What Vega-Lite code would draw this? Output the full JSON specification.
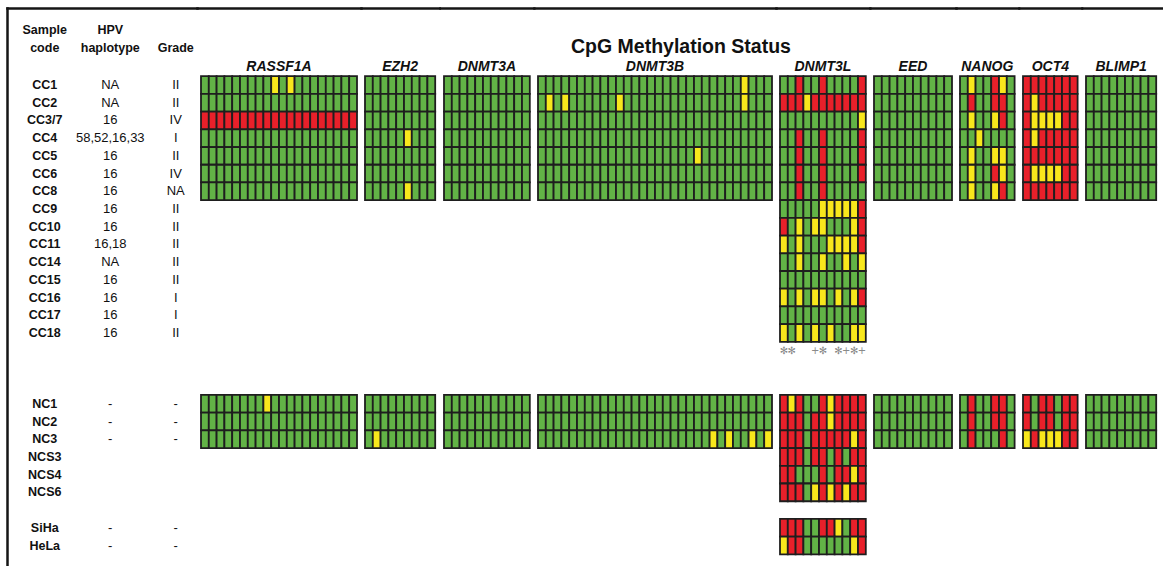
{
"$schema":"https://vega.github.io/schema/vega-lite/v6.json",
"padding":{"left":7,"top":8,"right":0,"bottom":0},
"autosize":{"type":"pad"},
"background":"white",
"spacing":0,
"bounds":"flush",
"resolve":{"scale":{"x":"independent","y":"independent"}},
"config":{"view":{"stroke":null},"axis":{"domainColor":"#151515","domainWidth":2.5,"domainCap":"square","labels":false,"ticks":false,"grid":false},"text":{"font":"Liberation Sans"}},
"datasets":{
"samples":[{"sample":"CC1","hpv":"NA","grade":"II"},{"sample":"CC2","hpv":"NA","grade":"II"},{"sample":"CC3/7","hpv":"16","grade":"IV"},{"sample":"CC4","hpv":"58,52,16,33","grade":"I"},{"sample":"CC5","hpv":"16","grade":"II"},{"sample":"CC6","hpv":"16","grade":"IV"},{"sample":"CC8","hpv":"16","grade":"NA"},{"sample":"CC9","hpv":"16","grade":"II"},{"sample":"CC10","hpv":"16","grade":"II"},{"sample":"CC11","hpv":"16,18","grade":"II"},{"sample":"CC14","hpv":"NA","grade":"II"},{"sample":"CC15","hpv":"16","grade":"II"},{"sample":"CC16","hpv":"16","grade":"I"},{"sample":"CC17","hpv":"16","grade":"I"},{"sample":"CC18","hpv":"16","grade":"II"},{"sample":"NC1","hpv":"-","grade":"-"},{"sample":"NC2","hpv":"-","grade":"-"},{"sample":"NC3","hpv":"-","grade":"-"},{"sample":"NCS3","hpv":"","grade":""},{"sample":"NCS4","hpv":"","grade":""},{"sample":"NCS6","hpv":"","grade":""},{"sample":"SiHa","hpv":"-","grade":"-"},{"sample":"HeLa","hpv":"-","grade":"-"}],
"headers":[{"col":"code","line":"H1","label":"Sample"},{"col":"code","line":"H2","label":"code"},{"col":"hpv","line":"H1","label":"HPV"},{"col":"hpv","line":"H2","label":"haplotype"},{"col":"grade","line":"H2","label":"Grade"}],
"RASSF1A":[
{"sample":"CC1","site":1,"status":"U"},{"sample":"CC1","site":2,"status":"U"},{"sample":"CC1","site":3,"status":"U"},{"sample":"CC1","site":4,"status":"U"},{"sample":"CC1","site":5,"status":"U"},{"sample":"CC1","site":6,"status":"U"},{"sample":"CC1","site":7,"status":"U"},{"sample":"CC1","site":8,"status":"U"},{"sample":"CC1","site":9,"status":"U"},{"sample":"CC1","site":10,"status":"P"},{"sample":"CC1","site":11,"status":"U"},{"sample":"CC1","site":12,"status":"P"},{"sample":"CC1","site":13,"status":"U"},{"sample":"CC1","site":14,"status":"U"},{"sample":"CC1","site":15,"status":"U"},{"sample":"CC1","site":16,"status":"U"},{"sample":"CC1","site":17,"status":"U"},{"sample":"CC1","site":18,"status":"U"},{"sample":"CC1","site":19,"status":"U"},{"sample":"CC1","site":20,"status":"U"},
{"sample":"CC2","site":1,"status":"U"},{"sample":"CC2","site":2,"status":"U"},{"sample":"CC2","site":3,"status":"U"},{"sample":"CC2","site":4,"status":"U"},{"sample":"CC2","site":5,"status":"U"},{"sample":"CC2","site":6,"status":"U"},{"sample":"CC2","site":7,"status":"U"},{"sample":"CC2","site":8,"status":"U"},{"sample":"CC2","site":9,"status":"U"},{"sample":"CC2","site":10,"status":"U"},{"sample":"CC2","site":11,"status":"U"},{"sample":"CC2","site":12,"status":"U"},{"sample":"CC2","site":13,"status":"U"},{"sample":"CC2","site":14,"status":"U"},{"sample":"CC2","site":15,"status":"U"},{"sample":"CC2","site":16,"status":"U"},{"sample":"CC2","site":17,"status":"U"},{"sample":"CC2","site":18,"status":"U"},{"sample":"CC2","site":19,"status":"U"},{"sample":"CC2","site":20,"status":"U"},
{"sample":"CC3/7","site":1,"status":"M"},{"sample":"CC3/7","site":2,"status":"M"},{"sample":"CC3/7","site":3,"status":"M"},{"sample":"CC3/7","site":4,"status":"M"},{"sample":"CC3/7","site":5,"status":"M"},{"sample":"CC3/7","site":6,"status":"M"},{"sample":"CC3/7","site":7,"status":"M"},{"sample":"CC3/7","site":8,"status":"M"},{"sample":"CC3/7","site":9,"status":"M"},{"sample":"CC3/7","site":10,"status":"M"},{"sample":"CC3/7","site":11,"status":"M"},{"sample":"CC3/7","site":12,"status":"M"},{"sample":"CC3/7","site":13,"status":"M"},{"sample":"CC3/7","site":14,"status":"M"},{"sample":"CC3/7","site":15,"status":"M"},{"sample":"CC3/7","site":16,"status":"M"},{"sample":"CC3/7","site":17,"status":"M"},{"sample":"CC3/7","site":18,"status":"M"},{"sample":"CC3/7","site":19,"status":"M"},{"sample":"CC3/7","site":20,"status":"M"},
{"sample":"CC4","site":1,"status":"U"},{"sample":"CC4","site":2,"status":"U"},{"sample":"CC4","site":3,"status":"U"},{"sample":"CC4","site":4,"status":"U"},{"sample":"CC4","site":5,"status":"U"},{"sample":"CC4","site":6,"status":"U"},{"sample":"CC4","site":7,"status":"U"},{"sample":"CC4","site":8,"status":"U"},{"sample":"CC4","site":9,"status":"U"},{"sample":"CC4","site":10,"status":"U"},{"sample":"CC4","site":11,"status":"U"},{"sample":"CC4","site":12,"status":"U"},{"sample":"CC4","site":13,"status":"U"},{"sample":"CC4","site":14,"status":"U"},{"sample":"CC4","site":15,"status":"U"},{"sample":"CC4","site":16,"status":"U"},{"sample":"CC4","site":17,"status":"U"},{"sample":"CC4","site":18,"status":"U"},{"sample":"CC4","site":19,"status":"U"},{"sample":"CC4","site":20,"status":"U"},
{"sample":"CC5","site":1,"status":"U"},{"sample":"CC5","site":2,"status":"U"},{"sample":"CC5","site":3,"status":"U"},{"sample":"CC5","site":4,"status":"U"},{"sample":"CC5","site":5,"status":"U"},{"sample":"CC5","site":6,"status":"U"},{"sample":"CC5","site":7,"status":"U"},{"sample":"CC5","site":8,"status":"U"},{"sample":"CC5","site":9,"status":"U"},{"sample":"CC5","site":10,"status":"U"},{"sample":"CC5","site":11,"status":"U"},{"sample":"CC5","site":12,"status":"U"},{"sample":"CC5","site":13,"status":"U"},{"sample":"CC5","site":14,"status":"U"},{"sample":"CC5","site":15,"status":"U"},{"sample":"CC5","site":16,"status":"U"},{"sample":"CC5","site":17,"status":"U"},{"sample":"CC5","site":18,"status":"U"},{"sample":"CC5","site":19,"status":"U"},{"sample":"CC5","site":20,"status":"U"},
{"sample":"CC6","site":1,"status":"U"},{"sample":"CC6","site":2,"status":"U"},{"sample":"CC6","site":3,"status":"U"},{"sample":"CC6","site":4,"status":"U"},{"sample":"CC6","site":5,"status":"U"},{"sample":"CC6","site":6,"status":"U"},{"sample":"CC6","site":7,"status":"U"},{"sample":"CC6","site":8,"status":"U"},{"sample":"CC6","site":9,"status":"U"},{"sample":"CC6","site":10,"status":"U"},{"sample":"CC6","site":11,"status":"U"},{"sample":"CC6","site":12,"status":"U"},{"sample":"CC6","site":13,"status":"U"},{"sample":"CC6","site":14,"status":"U"},{"sample":"CC6","site":15,"status":"U"},{"sample":"CC6","site":16,"status":"U"},{"sample":"CC6","site":17,"status":"U"},{"sample":"CC6","site":18,"status":"U"},{"sample":"CC6","site":19,"status":"U"},{"sample":"CC6","site":20,"status":"U"},
{"sample":"CC8","site":1,"status":"U"},{"sample":"CC8","site":2,"status":"U"},{"sample":"CC8","site":3,"status":"U"},{"sample":"CC8","site":4,"status":"U"},{"sample":"CC8","site":5,"status":"U"},{"sample":"CC8","site":6,"status":"U"},{"sample":"CC8","site":7,"status":"U"},{"sample":"CC8","site":8,"status":"U"},{"sample":"CC8","site":9,"status":"U"},{"sample":"CC8","site":10,"status":"U"},{"sample":"CC8","site":11,"status":"U"},{"sample":"CC8","site":12,"status":"U"},{"sample":"CC8","site":13,"status":"U"},{"sample":"CC8","site":14,"status":"U"},{"sample":"CC8","site":15,"status":"U"},{"sample":"CC8","site":16,"status":"U"},{"sample":"CC8","site":17,"status":"U"},{"sample":"CC8","site":18,"status":"U"},{"sample":"CC8","site":19,"status":"U"},{"sample":"CC8","site":20,"status":"U"},
{"sample":"NC1","site":1,"status":"U"},{"sample":"NC1","site":2,"status":"U"},{"sample":"NC1","site":3,"status":"U"},{"sample":"NC1","site":4,"status":"U"},{"sample":"NC1","site":5,"status":"U"},{"sample":"NC1","site":6,"status":"U"},{"sample":"NC1","site":7,"status":"U"},{"sample":"NC1","site":8,"status":"U"},{"sample":"NC1","site":9,"status":"P"},{"sample":"NC1","site":10,"status":"U"},{"sample":"NC1","site":11,"status":"U"},{"sample":"NC1","site":12,"status":"U"},{"sample":"NC1","site":13,"status":"U"},{"sample":"NC1","site":14,"status":"U"},{"sample":"NC1","site":15,"status":"U"},{"sample":"NC1","site":16,"status":"U"},{"sample":"NC1","site":17,"status":"U"},{"sample":"NC1","site":18,"status":"U"},{"sample":"NC1","site":19,"status":"U"},{"sample":"NC1","site":20,"status":"U"},
{"sample":"NC2","site":1,"status":"U"},{"sample":"NC2","site":2,"status":"U"},{"sample":"NC2","site":3,"status":"U"},{"sample":"NC2","site":4,"status":"U"},{"sample":"NC2","site":5,"status":"U"},{"sample":"NC2","site":6,"status":"U"},{"sample":"NC2","site":7,"status":"U"},{"sample":"NC2","site":8,"status":"U"},{"sample":"NC2","site":9,"status":"U"},{"sample":"NC2","site":10,"status":"U"},{"sample":"NC2","site":11,"status":"U"},{"sample":"NC2","site":12,"status":"U"},{"sample":"NC2","site":13,"status":"U"},{"sample":"NC2","site":14,"status":"U"},{"sample":"NC2","site":15,"status":"U"},{"sample":"NC2","site":16,"status":"U"},{"sample":"NC2","site":17,"status":"U"},{"sample":"NC2","site":18,"status":"U"},{"sample":"NC2","site":19,"status":"U"},{"sample":"NC2","site":20,"status":"U"},
{"sample":"NC3","site":1,"status":"U"},{"sample":"NC3","site":2,"status":"U"},{"sample":"NC3","site":3,"status":"U"},{"sample":"NC3","site":4,"status":"U"},{"sample":"NC3","site":5,"status":"U"},{"sample":"NC3","site":6,"status":"U"},{"sample":"NC3","site":7,"status":"U"},{"sample":"NC3","site":8,"status":"U"},{"sample":"NC3","site":9,"status":"U"},{"sample":"NC3","site":10,"status":"U"},{"sample":"NC3","site":11,"status":"U"},{"sample":"NC3","site":12,"status":"U"},{"sample":"NC3","site":13,"status":"U"},{"sample":"NC3","site":14,"status":"U"},{"sample":"NC3","site":15,"status":"U"},{"sample":"NC3","site":16,"status":"U"},{"sample":"NC3","site":17,"status":"U"},{"sample":"NC3","site":18,"status":"U"},{"sample":"NC3","site":19,"status":"U"},{"sample":"NC3","site":20,"status":"U"}],
"EZH2":[
{"sample":"CC1","site":1,"status":"U"},{"sample":"CC1","site":2,"status":"U"},{"sample":"CC1","site":3,"status":"U"},{"sample":"CC1","site":4,"status":"U"},{"sample":"CC1","site":5,"status":"U"},{"sample":"CC1","site":6,"status":"U"},{"sample":"CC1","site":7,"status":"U"},{"sample":"CC1","site":8,"status":"U"},{"sample":"CC1","site":9,"status":"U"},
{"sample":"CC2","site":1,"status":"U"},{"sample":"CC2","site":2,"status":"U"},{"sample":"CC2","site":3,"status":"U"},{"sample":"CC2","site":4,"status":"U"},{"sample":"CC2","site":5,"status":"U"},{"sample":"CC2","site":6,"status":"U"},{"sample":"CC2","site":7,"status":"U"},{"sample":"CC2","site":8,"status":"U"},{"sample":"CC2","site":9,"status":"U"},
{"sample":"CC3/7","site":1,"status":"U"},{"sample":"CC3/7","site":2,"status":"U"},{"sample":"CC3/7","site":3,"status":"U"},{"sample":"CC3/7","site":4,"status":"U"},{"sample":"CC3/7","site":5,"status":"U"},{"sample":"CC3/7","site":6,"status":"U"},{"sample":"CC3/7","site":7,"status":"U"},{"sample":"CC3/7","site":8,"status":"U"},{"sample":"CC3/7","site":9,"status":"U"},
{"sample":"CC4","site":1,"status":"U"},{"sample":"CC4","site":2,"status":"U"},{"sample":"CC4","site":3,"status":"U"},{"sample":"CC4","site":4,"status":"U"},{"sample":"CC4","site":5,"status":"U"},{"sample":"CC4","site":6,"status":"P"},{"sample":"CC4","site":7,"status":"U"},{"sample":"CC4","site":8,"status":"U"},{"sample":"CC4","site":9,"status":"U"},
{"sample":"CC5","site":1,"status":"U"},{"sample":"CC5","site":2,"status":"U"},{"sample":"CC5","site":3,"status":"U"},{"sample":"CC5","site":4,"status":"U"},{"sample":"CC5","site":5,"status":"U"},{"sample":"CC5","site":6,"status":"U"},{"sample":"CC5","site":7,"status":"U"},{"sample":"CC5","site":8,"status":"U"},{"sample":"CC5","site":9,"status":"U"},
{"sample":"CC6","site":1,"status":"U"},{"sample":"CC6","site":2,"status":"U"},{"sample":"CC6","site":3,"status":"U"},{"sample":"CC6","site":4,"status":"U"},{"sample":"CC6","site":5,"status":"U"},{"sample":"CC6","site":6,"status":"U"},{"sample":"CC6","site":7,"status":"U"},{"sample":"CC6","site":8,"status":"U"},{"sample":"CC6","site":9,"status":"U"},
{"sample":"CC8","site":1,"status":"U"},{"sample":"CC8","site":2,"status":"U"},{"sample":"CC8","site":3,"status":"U"},{"sample":"CC8","site":4,"status":"U"},{"sample":"CC8","site":5,"status":"U"},{"sample":"CC8","site":6,"status":"P"},{"sample":"CC8","site":7,"status":"U"},{"sample":"CC8","site":8,"status":"U"},{"sample":"CC8","site":9,"status":"U"},
{"sample":"NC1","site":1,"status":"U"},{"sample":"NC1","site":2,"status":"U"},{"sample":"NC1","site":3,"status":"U"},{"sample":"NC1","site":4,"status":"U"},{"sample":"NC1","site":5,"status":"U"},{"sample":"NC1","site":6,"status":"U"},{"sample":"NC1","site":7,"status":"U"},{"sample":"NC1","site":8,"status":"U"},{"sample":"NC1","site":9,"status":"U"},
{"sample":"NC2","site":1,"status":"U"},{"sample":"NC2","site":2,"status":"U"},{"sample":"NC2","site":3,"status":"U"},{"sample":"NC2","site":4,"status":"U"},{"sample":"NC2","site":5,"status":"U"},{"sample":"NC2","site":6,"status":"U"},{"sample":"NC2","site":7,"status":"U"},{"sample":"NC2","site":8,"status":"U"},{"sample":"NC2","site":9,"status":"U"},
{"sample":"NC3","site":1,"status":"U"},{"sample":"NC3","site":2,"status":"P"},{"sample":"NC3","site":3,"status":"U"},{"sample":"NC3","site":4,"status":"U"},{"sample":"NC3","site":5,"status":"U"},{"sample":"NC3","site":6,"status":"U"},{"sample":"NC3","site":7,"status":"U"},{"sample":"NC3","site":8,"status":"U"},{"sample":"NC3","site":9,"status":"U"}],
"DNMT3A":[
{"sample":"CC1","site":1,"status":"U"},{"sample":"CC1","site":2,"status":"U"},{"sample":"CC1","site":3,"status":"U"},{"sample":"CC1","site":4,"status":"U"},{"sample":"CC1","site":5,"status":"U"},{"sample":"CC1","site":6,"status":"U"},{"sample":"CC1","site":7,"status":"U"},{"sample":"CC1","site":8,"status":"U"},{"sample":"CC1","site":9,"status":"U"},{"sample":"CC1","site":10,"status":"U"},{"sample":"CC1","site":11,"status":"U"},
{"sample":"CC2","site":1,"status":"U"},{"sample":"CC2","site":2,"status":"U"},{"sample":"CC2","site":3,"status":"U"},{"sample":"CC2","site":4,"status":"U"},{"sample":"CC2","site":5,"status":"U"},{"sample":"CC2","site":6,"status":"U"},{"sample":"CC2","site":7,"status":"U"},{"sample":"CC2","site":8,"status":"U"},{"sample":"CC2","site":9,"status":"U"},{"sample":"CC2","site":10,"status":"U"},{"sample":"CC2","site":11,"status":"U"},
{"sample":"CC3/7","site":1,"status":"U"},{"sample":"CC3/7","site":2,"status":"U"},{"sample":"CC3/7","site":3,"status":"U"},{"sample":"CC3/7","site":4,"status":"U"},{"sample":"CC3/7","site":5,"status":"U"},{"sample":"CC3/7","site":6,"status":"U"},{"sample":"CC3/7","site":7,"status":"U"},{"sample":"CC3/7","site":8,"status":"U"},{"sample":"CC3/7","site":9,"status":"U"},{"sample":"CC3/7","site":10,"status":"U"},{"sample":"CC3/7","site":11,"status":"U"},
{"sample":"CC4","site":1,"status":"U"},{"sample":"CC4","site":2,"status":"U"},{"sample":"CC4","site":3,"status":"U"},{"sample":"CC4","site":4,"status":"U"},{"sample":"CC4","site":5,"status":"U"},{"sample":"CC4","site":6,"status":"U"},{"sample":"CC4","site":7,"status":"U"},{"sample":"CC4","site":8,"status":"U"},{"sample":"CC4","site":9,"status":"U"},{"sample":"CC4","site":10,"status":"U"},{"sample":"CC4","site":11,"status":"U"},
{"sample":"CC5","site":1,"status":"U"},{"sample":"CC5","site":2,"status":"U"},{"sample":"CC5","site":3,"status":"U"},{"sample":"CC5","site":4,"status":"U"},{"sample":"CC5","site":5,"status":"U"},{"sample":"CC5","site":6,"status":"U"},{"sample":"CC5","site":7,"status":"U"},{"sample":"CC5","site":8,"status":"U"},{"sample":"CC5","site":9,"status":"U"},{"sample":"CC5","site":10,"status":"U"},{"sample":"CC5","site":11,"status":"U"},
{"sample":"CC6","site":1,"status":"U"},{"sample":"CC6","site":2,"status":"U"},{"sample":"CC6","site":3,"status":"U"},{"sample":"CC6","site":4,"status":"U"},{"sample":"CC6","site":5,"status":"U"},{"sample":"CC6","site":6,"status":"U"},{"sample":"CC6","site":7,"status":"U"},{"sample":"CC6","site":8,"status":"U"},{"sample":"CC6","site":9,"status":"U"},{"sample":"CC6","site":10,"status":"U"},{"sample":"CC6","site":11,"status":"U"},
{"sample":"CC8","site":1,"status":"U"},{"sample":"CC8","site":2,"status":"U"},{"sample":"CC8","site":3,"status":"U"},{"sample":"CC8","site":4,"status":"U"},{"sample":"CC8","site":5,"status":"U"},{"sample":"CC8","site":6,"status":"U"},{"sample":"CC8","site":7,"status":"U"},{"sample":"CC8","site":8,"status":"U"},{"sample":"CC8","site":9,"status":"U"},{"sample":"CC8","site":10,"status":"U"},{"sample":"CC8","site":11,"status":"U"},
{"sample":"NC1","site":1,"status":"U"},{"sample":"NC1","site":2,"status":"U"},{"sample":"NC1","site":3,"status":"U"},{"sample":"NC1","site":4,"status":"U"},{"sample":"NC1","site":5,"status":"U"},{"sample":"NC1","site":6,"status":"U"},{"sample":"NC1","site":7,"status":"U"},{"sample":"NC1","site":8,"status":"U"},{"sample":"NC1","site":9,"status":"U"},{"sample":"NC1","site":10,"status":"U"},{"sample":"NC1","site":11,"status":"U"},
{"sample":"NC2","site":1,"status":"U"},{"sample":"NC2","site":2,"status":"U"},{"sample":"NC2","site":3,"status":"U"},{"sample":"NC2","site":4,"status":"U"},{"sample":"NC2","site":5,"status":"U"},{"sample":"NC2","site":6,"status":"U"},{"sample":"NC2","site":7,"status":"U"},{"sample":"NC2","site":8,"status":"U"},{"sample":"NC2","site":9,"status":"U"},{"sample":"NC2","site":10,"status":"U"},{"sample":"NC2","site":11,"status":"U"},
{"sample":"NC3","site":1,"status":"U"},{"sample":"NC3","site":2,"status":"U"},{"sample":"NC3","site":3,"status":"U"},{"sample":"NC3","site":4,"status":"U"},{"sample":"NC3","site":5,"status":"U"},{"sample":"NC3","site":6,"status":"U"},{"sample":"NC3","site":7,"status":"U"},{"sample":"NC3","site":8,"status":"U"},{"sample":"NC3","site":9,"status":"U"},{"sample":"NC3","site":10,"status":"U"},{"sample":"NC3","site":11,"status":"U"}],
"DNMT3B":[
{"sample":"CC1","site":1,"status":"U"},{"sample":"CC1","site":2,"status":"U"},{"sample":"CC1","site":3,"status":"U"},{"sample":"CC1","site":4,"status":"U"},{"sample":"CC1","site":5,"status":"U"},{"sample":"CC1","site":6,"status":"U"},{"sample":"CC1","site":7,"status":"U"},{"sample":"CC1","site":8,"status":"U"},{"sample":"CC1","site":9,"status":"U"},{"sample":"CC1","site":10,"status":"U"},{"sample":"CC1","site":11,"status":"U"},{"sample":"CC1","site":12,"status":"U"},{"sample":"CC1","site":13,"status":"U"},{"sample":"CC1","site":14,"status":"U"},{"sample":"CC1","site":15,"status":"U"},{"sample":"CC1","site":16,"status":"U"},{"sample":"CC1","site":17,"status":"U"},{"sample":"CC1","site":18,"status":"U"},{"sample":"CC1","site":19,"status":"U"},{"sample":"CC1","site":20,"status":"U"},{"sample":"CC1","site":21,"status":"U"},{"sample":"CC1","site":22,"status":"U"},{"sample":"CC1","site":23,"status":"U"},{"sample":"CC1","site":24,"status":"U"},{"sample":"CC1","site":25,"status":"U"},{"sample":"CC1","site":26,"status":"U"},{"sample":"CC1","site":27,"status":"P"},{"sample":"CC1","site":28,"status":"U"},{"sample":"CC1","site":29,"status":"U"},{"sample":"CC1","site":30,"status":"U"},
{"sample":"CC2","site":1,"status":"U"},{"sample":"CC2","site":2,"status":"P"},{"sample":"CC2","site":3,"status":"U"},{"sample":"CC2","site":4,"status":"P"},{"sample":"CC2","site":5,"status":"U"},{"sample":"CC2","site":6,"status":"U"},{"sample":"CC2","site":7,"status":"U"},{"sample":"CC2","site":8,"status":"U"},{"sample":"CC2","site":9,"status":"U"},{"sample":"CC2","site":10,"status":"U"},{"sample":"CC2","site":11,"status":"P"},{"sample":"CC2","site":12,"status":"U"},{"sample":"CC2","site":13,"status":"U"},{"sample":"CC2","site":14,"status":"U"},{"sample":"CC2","site":15,"status":"U"},{"sample":"CC2","site":16,"status":"U"},{"sample":"CC2","site":17,"status":"U"},{"sample":"CC2","site":18,"status":"U"},{"sample":"CC2","site":19,"status":"U"},{"sample":"CC2","site":20,"status":"U"},{"sample":"CC2","site":21,"status":"U"},{"sample":"CC2","site":22,"status":"U"},{"sample":"CC2","site":23,"status":"U"},{"sample":"CC2","site":24,"status":"U"},{"sample":"CC2","site":25,"status":"U"},{"sample":"CC2","site":26,"status":"U"},{"sample":"CC2","site":27,"status":"P"},{"sample":"CC2","site":28,"status":"U"},{"sample":"CC2","site":29,"status":"U"},{"sample":"CC2","site":30,"status":"U"},
{"sample":"CC3/7","site":1,"status":"U"},{"sample":"CC3/7","site":2,"status":"U"},{"sample":"CC3/7","site":3,"status":"U"},{"sample":"CC3/7","site":4,"status":"U"},{"sample":"CC3/7","site":5,"status":"U"},{"sample":"CC3/7","site":6,"status":"U"},{"sample":"CC3/7","site":7,"status":"U"},{"sample":"CC3/7","site":8,"status":"U"},{"sample":"CC3/7","site":9,"status":"U"},{"sample":"CC3/7","site":10,"status":"U"},{"sample":"CC3/7","site":11,"status":"U"},{"sample":"CC3/7","site":12,"status":"U"},{"sample":"CC3/7","site":13,"status":"U"},{"sample":"CC3/7","site":14,"status":"U"},{"sample":"CC3/7","site":15,"status":"U"},{"sample":"CC3/7","site":16,"status":"U"},{"sample":"CC3/7","site":17,"status":"U"},{"sample":"CC3/7","site":18,"status":"U"},{"sample":"CC3/7","site":19,"status":"U"},{"sample":"CC3/7","site":20,"status":"U"},{"sample":"CC3/7","site":21,"status":"U"},{"sample":"CC3/7","site":22,"status":"U"},{"sample":"CC3/7","site":23,"status":"U"},{"sample":"CC3/7","site":24,"status":"U"},{"sample":"CC3/7","site":25,"status":"U"},{"sample":"CC3/7","site":26,"status":"U"},{"sample":"CC3/7","site":27,"status":"U"},{"sample":"CC3/7","site":28,"status":"U"},{"sample":"CC3/7","site":29,"status":"U"},{"sample":"CC3/7","site":30,"status":"U"},
{"sample":"CC4","site":1,"status":"U"},{"sample":"CC4","site":2,"status":"U"},{"sample":"CC4","site":3,"status":"U"},{"sample":"CC4","site":4,"status":"U"},{"sample":"CC4","site":5,"status":"U"},{"sample":"CC4","site":6,"status":"U"},{"sample":"CC4","site":7,"status":"U"},{"sample":"CC4","site":8,"status":"U"},{"sample":"CC4","site":9,"status":"U"},{"sample":"CC4","site":10,"status":"U"},{"sample":"CC4","site":11,"status":"U"},{"sample":"CC4","site":12,"status":"U"},{"sample":"CC4","site":13,"status":"U"},{"sample":"CC4","site":14,"status":"U"},{"sample":"CC4","site":15,"status":"U"},{"sample":"CC4","site":16,"status":"U"},{"sample":"CC4","site":17,"status":"U"},{"sample":"CC4","site":18,"status":"U"},{"sample":"CC4","site":19,"status":"U"},{"sample":"CC4","site":20,"status":"U"},{"sample":"CC4","site":21,"status":"U"},{"sample":"CC4","site":22,"status":"U"},{"sample":"CC4","site":23,"status":"U"},{"sample":"CC4","site":24,"status":"U"},{"sample":"CC4","site":25,"status":"U"},{"sample":"CC4","site":26,"status":"U"},{"sample":"CC4","site":27,"status":"U"},{"sample":"CC4","site":28,"status":"U"},{"sample":"CC4","site":29,"status":"U"},{"sample":"CC4","site":30,"status":"U"},
{"sample":"CC5","site":1,"status":"U"},{"sample":"CC5","site":2,"status":"U"},{"sample":"CC5","site":3,"status":"U"},{"sample":"CC5","site":4,"status":"U"},{"sample":"CC5","site":5,"status":"U"},{"sample":"CC5","site":6,"status":"U"},{"sample":"CC5","site":7,"status":"U"},{"sample":"CC5","site":8,"status":"U"},{"sample":"CC5","site":9,"status":"U"},{"sample":"CC5","site":10,"status":"U"},{"sample":"CC5","site":11,"status":"U"},{"sample":"CC5","site":12,"status":"U"},{"sample":"CC5","site":13,"status":"U"},{"sample":"CC5","site":14,"status":"U"},{"sample":"CC5","site":15,"status":"U"},{"sample":"CC5","site":16,"status":"U"},{"sample":"CC5","site":17,"status":"U"},{"sample":"CC5","site":18,"status":"U"},{"sample":"CC5","site":19,"status":"U"},{"sample":"CC5","site":20,"status":"U"},{"sample":"CC5","site":21,"status":"P"},{"sample":"CC5","site":22,"status":"U"},{"sample":"CC5","site":23,"status":"U"},{"sample":"CC5","site":24,"status":"U"},{"sample":"CC5","site":25,"status":"U"},{"sample":"CC5","site":26,"status":"U"},{"sample":"CC5","site":27,"status":"U"},{"sample":"CC5","site":28,"status":"U"},{"sample":"CC5","site":29,"status":"U"},{"sample":"CC5","site":30,"status":"U"},
{"sample":"CC6","site":1,"status":"U"},{"sample":"CC6","site":2,"status":"U"},{"sample":"CC6","site":3,"status":"U"},{"sample":"CC6","site":4,"status":"U"},{"sample":"CC6","site":5,"status":"U"},{"sample":"CC6","site":6,"status":"U"},{"sample":"CC6","site":7,"status":"U"},{"sample":"CC6","site":8,"status":"U"},{"sample":"CC6","site":9,"status":"U"},{"sample":"CC6","site":10,"status":"U"},{"sample":"CC6","site":11,"status":"U"},{"sample":"CC6","site":12,"status":"U"},{"sample":"CC6","site":13,"status":"U"},{"sample":"CC6","site":14,"status":"U"},{"sample":"CC6","site":15,"status":"U"},{"sample":"CC6","site":16,"status":"U"},{"sample":"CC6","site":17,"status":"U"},{"sample":"CC6","site":18,"status":"U"},{"sample":"CC6","site":19,"status":"U"},{"sample":"CC6","site":20,"status":"U"},{"sample":"CC6","site":21,"status":"U"},{"sample":"CC6","site":22,"status":"U"},{"sample":"CC6","site":23,"status":"U"},{"sample":"CC6","site":24,"status":"U"},{"sample":"CC6","site":25,"status":"U"},{"sample":"CC6","site":26,"status":"U"},{"sample":"CC6","site":27,"status":"U"},{"sample":"CC6","site":28,"status":"U"},{"sample":"CC6","site":29,"status":"U"},{"sample":"CC6","site":30,"status":"U"},
{"sample":"CC8","site":1,"status":"U"},{"sample":"CC8","site":2,"status":"U"},{"sample":"CC8","site":3,"status":"U"},{"sample":"CC8","site":4,"status":"U"},{"sample":"CC8","site":5,"status":"U"},{"sample":"CC8","site":6,"status":"U"},{"sample":"CC8","site":7,"status":"U"},{"sample":"CC8","site":8,"status":"U"},{"sample":"CC8","site":9,"status":"U"},{"sample":"CC8","site":10,"status":"U"},{"sample":"CC8","site":11,"status":"U"},{"sample":"CC8","site":12,"status":"U"},{"sample":"CC8","site":13,"status":"U"},{"sample":"CC8","site":14,"status":"U"},{"sample":"CC8","site":15,"status":"U"},{"sample":"CC8","site":16,"status":"U"},{"sample":"CC8","site":17,"status":"U"},{"sample":"CC8","site":18,"status":"U"},{"sample":"CC8","site":19,"status":"U"},{"sample":"CC8","site":20,"status":"U"},{"sample":"CC8","site":21,"status":"U"},{"sample":"CC8","site":22,"status":"U"},{"sample":"CC8","site":23,"status":"U"},{"sample":"CC8","site":24,"status":"U"},{"sample":"CC8","site":25,"status":"U"},{"sample":"CC8","site":26,"status":"U"},{"sample":"CC8","site":27,"status":"U"},{"sample":"CC8","site":28,"status":"U"},{"sample":"CC8","site":29,"status":"U"},{"sample":"CC8","site":30,"status":"U"},
{"sample":"NC1","site":1,"status":"U"},{"sample":"NC1","site":2,"status":"U"},{"sample":"NC1","site":3,"status":"U"},{"sample":"NC1","site":4,"status":"U"},{"sample":"NC1","site":5,"status":"U"},{"sample":"NC1","site":6,"status":"U"},{"sample":"NC1","site":7,"status":"U"},{"sample":"NC1","site":8,"status":"U"},{"sample":"NC1","site":9,"status":"U"},{"sample":"NC1","site":10,"status":"U"},{"sample":"NC1","site":11,"status":"U"},{"sample":"NC1","site":12,"status":"U"},{"sample":"NC1","site":13,"status":"U"},{"sample":"NC1","site":14,"status":"U"},{"sample":"NC1","site":15,"status":"U"},{"sample":"NC1","site":16,"status":"U"},{"sample":"NC1","site":17,"status":"U"},{"sample":"NC1","site":18,"status":"U"},{"sample":"NC1","site":19,"status":"U"},{"sample":"NC1","site":20,"status":"U"},{"sample":"NC1","site":21,"status":"U"},{"sample":"NC1","site":22,"status":"U"},{"sample":"NC1","site":23,"status":"U"},{"sample":"NC1","site":24,"status":"U"},{"sample":"NC1","site":25,"status":"U"},{"sample":"NC1","site":26,"status":"U"},{"sample":"NC1","site":27,"status":"U"},{"sample":"NC1","site":28,"status":"U"},{"sample":"NC1","site":29,"status":"U"},{"sample":"NC1","site":30,"status":"U"},
{"sample":"NC2","site":1,"status":"U"},{"sample":"NC2","site":2,"status":"U"},{"sample":"NC2","site":3,"status":"U"},{"sample":"NC2","site":4,"status":"U"},{"sample":"NC2","site":5,"status":"U"},{"sample":"NC2","site":6,"status":"U"},{"sample":"NC2","site":7,"status":"U"},{"sample":"NC2","site":8,"status":"U"},{"sample":"NC2","site":9,"status":"U"},{"sample":"NC2","site":10,"status":"U"},{"sample":"NC2","site":11,"status":"U"},{"sample":"NC2","site":12,"status":"U"},{"sample":"NC2","site":13,"status":"U"},{"sample":"NC2","site":14,"status":"U"},{"sample":"NC2","site":15,"status":"U"},{"sample":"NC2","site":16,"status":"U"},{"sample":"NC2","site":17,"status":"U"},{"sample":"NC2","site":18,"status":"U"},{"sample":"NC2","site":19,"status":"U"},{"sample":"NC2","site":20,"status":"U"},{"sample":"NC2","site":21,"status":"U"},{"sample":"NC2","site":22,"status":"U"},{"sample":"NC2","site":23,"status":"U"},{"sample":"NC2","site":24,"status":"U"},{"sample":"NC2","site":25,"status":"U"},{"sample":"NC2","site":26,"status":"U"},{"sample":"NC2","site":27,"status":"U"},{"sample":"NC2","site":28,"status":"U"},{"sample":"NC2","site":29,"status":"U"},{"sample":"NC2","site":30,"status":"U"},
{"sample":"NC3","site":1,"status":"U"},{"sample":"NC3","site":2,"status":"U"},{"sample":"NC3","site":3,"status":"U"},{"sample":"NC3","site":4,"status":"U"},{"sample":"NC3","site":5,"status":"U"},{"sample":"NC3","site":6,"status":"U"},{"sample":"NC3","site":7,"status":"U"},{"sample":"NC3","site":8,"status":"U"},{"sample":"NC3","site":9,"status":"U"},{"sample":"NC3","site":10,"status":"U"},{"sample":"NC3","site":11,"status":"U"},{"sample":"NC3","site":12,"status":"U"},{"sample":"NC3","site":13,"status":"U"},{"sample":"NC3","site":14,"status":"U"},{"sample":"NC3","site":15,"status":"U"},{"sample":"NC3","site":16,"status":"U"},{"sample":"NC3","site":17,"status":"U"},{"sample":"NC3","site":18,"status":"U"},{"sample":"NC3","site":19,"status":"U"},{"sample":"NC3","site":20,"status":"U"},{"sample":"NC3","site":21,"status":"U"},{"sample":"NC3","site":22,"status":"U"},{"sample":"NC3","site":23,"status":"P"},{"sample":"NC3","site":24,"status":"U"},{"sample":"NC3","site":25,"status":"P"},{"sample":"NC3","site":26,"status":"U"},{"sample":"NC3","site":27,"status":"U"},{"sample":"NC3","site":28,"status":"P"},{"sample":"NC3","site":29,"status":"U"},{"sample":"NC3","site":30,"status":"P"}],
"DNMT3L":[
{"sample":"CC1","site":1,"status":"U"},{"sample":"CC1","site":2,"status":"U"},{"sample":"CC1","site":3,"status":"M"},{"sample":"CC1","site":4,"status":"U"},{"sample":"CC1","site":5,"status":"U"},{"sample":"CC1","site":6,"status":"M"},{"sample":"CC1","site":7,"status":"U"},{"sample":"CC1","site":8,"status":"U"},{"sample":"CC1","site":9,"status":"U"},{"sample":"CC1","site":10,"status":"U"},{"sample":"CC1","site":11,"status":"M"},
{"sample":"CC2","site":1,"status":"M"},{"sample":"CC2","site":2,"status":"M"},{"sample":"CC2","site":3,"status":"M"},{"sample":"CC2","site":4,"status":"P"},{"sample":"CC2","site":5,"status":"M"},{"sample":"CC2","site":6,"status":"M"},{"sample":"CC2","site":7,"status":"M"},{"sample":"CC2","site":8,"status":"M"},{"sample":"CC2","site":9,"status":"M"},{"sample":"CC2","site":10,"status":"M"},{"sample":"CC2","site":11,"status":"M"},
{"sample":"CC3/7","site":1,"status":"U"},{"sample":"CC3/7","site":2,"status":"U"},{"sample":"CC3/7","site":3,"status":"U"},{"sample":"CC3/7","site":4,"status":"U"},{"sample":"CC3/7","site":5,"status":"U"},{"sample":"CC3/7","site":6,"status":"U"},{"sample":"CC3/7","site":7,"status":"U"},{"sample":"CC3/7","site":8,"status":"U"},{"sample":"CC3/7","site":9,"status":"U"},{"sample":"CC3/7","site":10,"status":"U"},{"sample":"CC3/7","site":11,"status":"P"},
{"sample":"CC4","site":1,"status":"U"},{"sample":"CC4","site":2,"status":"U"},{"sample":"CC4","site":3,"status":"M"},{"sample":"CC4","site":4,"status":"U"},{"sample":"CC4","site":5,"status":"U"},{"sample":"CC4","site":6,"status":"M"},{"sample":"CC4","site":7,"status":"U"},{"sample":"CC4","site":8,"status":"U"},{"sample":"CC4","site":9,"status":"U"},{"sample":"CC4","site":10,"status":"U"},{"sample":"CC4","site":11,"status":"M"},
{"sample":"CC5","site":1,"status":"U"},{"sample":"CC5","site":2,"status":"U"},{"sample":"CC5","site":3,"status":"M"},{"sample":"CC5","site":4,"status":"U"},{"sample":"CC5","site":5,"status":"U"},{"sample":"CC5","site":6,"status":"M"},{"sample":"CC5","site":7,"status":"U"},{"sample":"CC5","site":8,"status":"U"},{"sample":"CC5","site":9,"status":"U"},{"sample":"CC5","site":10,"status":"U"},{"sample":"CC5","site":11,"status":"M"},
{"sample":"CC6","site":1,"status":"U"},{"sample":"CC6","site":2,"status":"U"},{"sample":"CC6","site":3,"status":"M"},{"sample":"CC6","site":4,"status":"U"},{"sample":"CC6","site":5,"status":"U"},{"sample":"CC6","site":6,"status":"M"},{"sample":"CC6","site":7,"status":"U"},{"sample":"CC6","site":8,"status":"U"},{"sample":"CC6","site":9,"status":"U"},{"sample":"CC6","site":10,"status":"U"},{"sample":"CC6","site":11,"status":"M"},
{"sample":"CC8","site":1,"status":"U"},{"sample":"CC8","site":2,"status":"U"},{"sample":"CC8","site":3,"status":"M"},{"sample":"CC8","site":4,"status":"U"},{"sample":"CC8","site":5,"status":"U"},{"sample":"CC8","site":6,"status":"M"},{"sample":"CC8","site":7,"status":"U"},{"sample":"CC8","site":8,"status":"U"},{"sample":"CC8","site":9,"status":"U"},{"sample":"CC8","site":10,"status":"U"},{"sample":"CC8","site":11,"status":"U"},
{"sample":"CC9","site":1,"status":"U"},{"sample":"CC9","site":2,"status":"U"},{"sample":"CC9","site":3,"status":"U"},{"sample":"CC9","site":4,"status":"U"},{"sample":"CC9","site":5,"status":"U"},{"sample":"CC9","site":6,"status":"P"},{"sample":"CC9","site":7,"status":"P"},{"sample":"CC9","site":8,"status":"P"},{"sample":"CC9","site":9,"status":"P"},{"sample":"CC9","site":10,"status":"P"},{"sample":"CC9","site":11,"status":"M"},
{"sample":"CC10","site":1,"status":"M"},{"sample":"CC10","site":2,"status":"U"},{"sample":"CC10","site":3,"status":"P"},{"sample":"CC10","site":4,"status":"U"},{"sample":"CC10","site":5,"status":"P"},{"sample":"CC10","site":6,"status":"P"},{"sample":"CC10","site":7,"status":"U"},{"sample":"CC10","site":8,"status":"U"},{"sample":"CC10","site":9,"status":"U"},{"sample":"CC10","site":10,"status":"P"},{"sample":"CC10","site":11,"status":"M"},
{"sample":"CC11","site":1,"status":"P"},{"sample":"CC11","site":2,"status":"U"},{"sample":"CC11","site":3,"status":"P"},{"sample":"CC11","site":4,"status":"U"},{"sample":"CC11","site":5,"status":"U"},{"sample":"CC11","site":6,"status":"U"},{"sample":"CC11","site":7,"status":"P"},{"sample":"CC11","site":8,"status":"P"},{"sample":"CC11","site":9,"status":"P"},{"sample":"CC11","site":10,"status":"P"},{"sample":"CC11","site":11,"status":"M"},
{"sample":"CC14","site":1,"status":"U"},{"sample":"CC14","site":2,"status":"U"},{"sample":"CC14","site":3,"status":"P"},{"sample":"CC14","site":4,"status":"U"},{"sample":"CC14","site":5,"status":"U"},{"sample":"CC14","site":6,"status":"P"},{"sample":"CC14","site":7,"status":"U"},{"sample":"CC14","site":8,"status":"U"},{"sample":"CC14","site":9,"status":"P"},{"sample":"CC14","site":10,"status":"U"},{"sample":"CC14","site":11,"status":"P"},
{"sample":"CC15","site":1,"status":"U"},{"sample":"CC15","site":2,"status":"U"},{"sample":"CC15","site":3,"status":"U"},{"sample":"CC15","site":4,"status":"U"},{"sample":"CC15","site":5,"status":"U"},{"sample":"CC15","site":6,"status":"U"},{"sample":"CC15","site":7,"status":"U"},{"sample":"CC15","site":8,"status":"U"},{"sample":"CC15","site":9,"status":"U"},{"sample":"CC15","site":10,"status":"U"},{"sample":"CC15","site":11,"status":"U"},
{"sample":"CC16","site":1,"status":"P"},{"sample":"CC16","site":2,"status":"U"},{"sample":"CC16","site":3,"status":"P"},{"sample":"CC16","site":4,"status":"U"},{"sample":"CC16","site":5,"status":"P"},{"sample":"CC16","site":6,"status":"P"},{"sample":"CC16","site":7,"status":"U"},{"sample":"CC16","site":8,"status":"P"},{"sample":"CC16","site":9,"status":"U"},{"sample":"CC16","site":10,"status":"P"},{"sample":"CC16","site":11,"status":"M"},
{"sample":"CC17","site":1,"status":"U"},{"sample":"CC17","site":2,"status":"U"},{"sample":"CC17","site":3,"status":"U"},{"sample":"CC17","site":4,"status":"U"},{"sample":"CC17","site":5,"status":"U"},{"sample":"CC17","site":6,"status":"U"},{"sample":"CC17","site":7,"status":"U"},{"sample":"CC17","site":8,"status":"U"},{"sample":"CC17","site":9,"status":"U"},{"sample":"CC17","site":10,"status":"U"},{"sample":"CC17","site":11,"status":"U"},
{"sample":"CC18","site":1,"status":"P"},{"sample":"CC18","site":2,"status":"U"},{"sample":"CC18","site":3,"status":"P"},{"sample":"CC18","site":4,"status":"U"},{"sample":"CC18","site":5,"status":"P"},{"sample":"CC18","site":6,"status":"U"},{"sample":"CC18","site":7,"status":"P"},{"sample":"CC18","site":8,"status":"U"},{"sample":"CC18","site":9,"status":"U"},{"sample":"CC18","site":10,"status":"P"},{"sample":"CC18","site":11,"status":"P"},
{"sample":"NC1","site":1,"status":"M"},{"sample":"NC1","site":2,"status":"P"},{"sample":"NC1","site":3,"status":"M"},{"sample":"NC1","site":4,"status":"U"},{"sample":"NC1","site":5,"status":"U"},{"sample":"NC1","site":6,"status":"M"},{"sample":"NC1","site":7,"status":"P"},{"sample":"NC1","site":8,"status":"M"},{"sample":"NC1","site":9,"status":"M"},{"sample":"NC1","site":10,"status":"M"},{"sample":"NC1","site":11,"status":"M"},
{"sample":"NC2","site":1,"status":"M"},{"sample":"NC2","site":2,"status":"M"},{"sample":"NC2","site":3,"status":"M"},{"sample":"NC2","site":4,"status":"U"},{"sample":"NC2","site":5,"status":"M"},{"sample":"NC2","site":6,"status":"M"},{"sample":"NC2","site":7,"status":"P"},{"sample":"NC2","site":8,"status":"M"},{"sample":"NC2","site":9,"status":"M"},{"sample":"NC2","site":10,"status":"M"},{"sample":"NC2","site":11,"status":"M"},
{"sample":"NC3","site":1,"status":"M"},{"sample":"NC3","site":2,"status":"M"},{"sample":"NC3","site":3,"status":"M"},{"sample":"NC3","site":4,"status":"U"},{"sample":"NC3","site":5,"status":"M"},{"sample":"NC3","site":6,"status":"M"},{"sample":"NC3","site":7,"status":"M"},{"sample":"NC3","site":8,"status":"M"},{"sample":"NC3","site":9,"status":"M"},{"sample":"NC3","site":10,"status":"P"},{"sample":"NC3","site":11,"status":"M"},
{"sample":"NCS3","site":1,"status":"M"},{"sample":"NCS3","site":2,"status":"M"},{"sample":"NCS3","site":3,"status":"M"},{"sample":"NCS3","site":4,"status":"U"},{"sample":"NCS3","site":5,"status":"M"},{"sample":"NCS3","site":6,"status":"M"},{"sample":"NCS3","site":7,"status":"U"},{"sample":"NCS3","site":8,"status":"M"},{"sample":"NCS3","site":9,"status":"U"},{"sample":"NCS3","site":10,"status":"M"},{"sample":"NCS3","site":11,"status":"M"},
{"sample":"NCS4","site":1,"status":"M"},{"sample":"NCS4","site":2,"status":"M"},{"sample":"NCS4","site":3,"status":"U"},{"sample":"NCS4","site":4,"status":"U"},{"sample":"NCS4","site":5,"status":"U"},{"sample":"NCS4","site":6,"status":"M"},{"sample":"NCS4","site":7,"status":"U"},{"sample":"NCS4","site":8,"status":"M"},{"sample":"NCS4","site":9,"status":"M"},{"sample":"NCS4","site":10,"status":"P"},{"sample":"NCS4","site":11,"status":"M"},
{"sample":"NCS6","site":1,"status":"M"},{"sample":"NCS6","site":2,"status":"M"},{"sample":"NCS6","site":3,"status":"M"},{"sample":"NCS6","site":4,"status":"U"},{"sample":"NCS6","site":5,"status":"P"},{"sample":"NCS6","site":6,"status":"M"},{"sample":"NCS6","site":7,"status":"P"},{"sample":"NCS6","site":8,"status":"M"},{"sample":"NCS6","site":9,"status":"P"},{"sample":"NCS6","site":10,"status":"M"},{"sample":"NCS6","site":11,"status":"M"},
{"sample":"SiHa","site":1,"status":"M"},{"sample":"SiHa","site":2,"status":"M"},{"sample":"SiHa","site":3,"status":"M"},{"sample":"SiHa","site":4,"status":"U"},{"sample":"SiHa","site":5,"status":"U"},{"sample":"SiHa","site":6,"status":"M"},{"sample":"SiHa","site":7,"status":"M"},{"sample":"SiHa","site":8,"status":"P"},{"sample":"SiHa","site":9,"status":"U"},{"sample":"SiHa","site":10,"status":"M"},{"sample":"SiHa","site":11,"status":"M"},
{"sample":"HeLa","site":1,"status":"P"},{"sample":"HeLa","site":2,"status":"M"},{"sample":"HeLa","site":3,"status":"M"},{"sample":"HeLa","site":4,"status":"U"},{"sample":"HeLa","site":5,"status":"U"},{"sample":"HeLa","site":6,"status":"U"},{"sample":"HeLa","site":7,"status":"U"},{"sample":"HeLa","site":8,"status":"U"},{"sample":"HeLa","site":9,"status":"U"},{"sample":"HeLa","site":10,"status":"P"},{"sample":"HeLa","site":11,"status":"M"}],
"marks":[{"site":1,"symbol":"✻"},{"site":2,"symbol":"✻"},{"site":5,"symbol":"+"},{"site":6,"symbol":"✻"},{"site":8,"symbol":"✻"},{"site":9,"symbol":"+"},{"site":10,"symbol":"✻"},{"site":11,"symbol":"+"}],
"EED":[
{"sample":"CC1","site":1,"status":"U"},{"sample":"CC1","site":2,"status":"U"},{"sample":"CC1","site":3,"status":"U"},{"sample":"CC1","site":4,"status":"U"},{"sample":"CC1","site":5,"status":"U"},{"sample":"CC1","site":6,"status":"U"},{"sample":"CC1","site":7,"status":"U"},{"sample":"CC1","site":8,"status":"U"},{"sample":"CC1","site":9,"status":"U"},{"sample":"CC1","site":10,"status":"U"},
{"sample":"CC2","site":1,"status":"U"},{"sample":"CC2","site":2,"status":"U"},{"sample":"CC2","site":3,"status":"U"},{"sample":"CC2","site":4,"status":"U"},{"sample":"CC2","site":5,"status":"U"},{"sample":"CC2","site":6,"status":"U"},{"sample":"CC2","site":7,"status":"U"},{"sample":"CC2","site":8,"status":"U"},{"sample":"CC2","site":9,"status":"U"},{"sample":"CC2","site":10,"status":"U"},
{"sample":"CC3/7","site":1,"status":"U"},{"sample":"CC3/7","site":2,"status":"U"},{"sample":"CC3/7","site":3,"status":"U"},{"sample":"CC3/7","site":4,"status":"U"},{"sample":"CC3/7","site":5,"status":"U"},{"sample":"CC3/7","site":6,"status":"U"},{"sample":"CC3/7","site":7,"status":"U"},{"sample":"CC3/7","site":8,"status":"U"},{"sample":"CC3/7","site":9,"status":"U"},{"sample":"CC3/7","site":10,"status":"U"},
{"sample":"CC4","site":1,"status":"U"},{"sample":"CC4","site":2,"status":"U"},{"sample":"CC4","site":3,"status":"U"},{"sample":"CC4","site":4,"status":"U"},{"sample":"CC4","site":5,"status":"U"},{"sample":"CC4","site":6,"status":"U"},{"sample":"CC4","site":7,"status":"U"},{"sample":"CC4","site":8,"status":"U"},{"sample":"CC4","site":9,"status":"U"},{"sample":"CC4","site":10,"status":"U"},
{"sample":"CC5","site":1,"status":"U"},{"sample":"CC5","site":2,"status":"U"},{"sample":"CC5","site":3,"status":"U"},{"sample":"CC5","site":4,"status":"U"},{"sample":"CC5","site":5,"status":"U"},{"sample":"CC5","site":6,"status":"U"},{"sample":"CC5","site":7,"status":"U"},{"sample":"CC5","site":8,"status":"U"},{"sample":"CC5","site":9,"status":"U"},{"sample":"CC5","site":10,"status":"U"},
{"sample":"CC6","site":1,"status":"U"},{"sample":"CC6","site":2,"status":"U"},{"sample":"CC6","site":3,"status":"U"},{"sample":"CC6","site":4,"status":"U"},{"sample":"CC6","site":5,"status":"U"},{"sample":"CC6","site":6,"status":"U"},{"sample":"CC6","site":7,"status":"U"},{"sample":"CC6","site":8,"status":"U"},{"sample":"CC6","site":9,"status":"U"},{"sample":"CC6","site":10,"status":"U"},
{"sample":"CC8","site":1,"status":"U"},{"sample":"CC8","site":2,"status":"U"},{"sample":"CC8","site":3,"status":"U"},{"sample":"CC8","site":4,"status":"U"},{"sample":"CC8","site":5,"status":"U"},{"sample":"CC8","site":6,"status":"U"},{"sample":"CC8","site":7,"status":"U"},{"sample":"CC8","site":8,"status":"U"},{"sample":"CC8","site":9,"status":"U"},{"sample":"CC8","site":10,"status":"U"},
{"sample":"NC1","site":1,"status":"U"},{"sample":"NC1","site":2,"status":"U"},{"sample":"NC1","site":3,"status":"U"},{"sample":"NC1","site":4,"status":"U"},{"sample":"NC1","site":5,"status":"U"},{"sample":"NC1","site":6,"status":"U"},{"sample":"NC1","site":7,"status":"U"},{"sample":"NC1","site":8,"status":"U"},{"sample":"NC1","site":9,"status":"U"},{"sample":"NC1","site":10,"status":"U"},
{"sample":"NC2","site":1,"status":"U"},{"sample":"NC2","site":2,"status":"U"},{"sample":"NC2","site":3,"status":"U"},{"sample":"NC2","site":4,"status":"U"},{"sample":"NC2","site":5,"status":"U"},{"sample":"NC2","site":6,"status":"U"},{"sample":"NC2","site":7,"status":"U"},{"sample":"NC2","site":8,"status":"U"},{"sample":"NC2","site":9,"status":"U"},{"sample":"NC2","site":10,"status":"U"},
{"sample":"NC3","site":1,"status":"U"},{"sample":"NC3","site":2,"status":"U"},{"sample":"NC3","site":3,"status":"U"},{"sample":"NC3","site":4,"status":"U"},{"sample":"NC3","site":5,"status":"U"},{"sample":"NC3","site":6,"status":"U"},{"sample":"NC3","site":7,"status":"U"},{"sample":"NC3","site":8,"status":"U"},{"sample":"NC3","site":9,"status":"U"},{"sample":"NC3","site":10,"status":"U"}],
"NANOG":[
{"sample":"CC1","site":1,"status":"U"},{"sample":"CC1","site":2,"status":"P"},{"sample":"CC1","site":3,"status":"U"},{"sample":"CC1","site":4,"status":"U"},{"sample":"CC1","site":5,"status":"M"},{"sample":"CC1","site":6,"status":"P"},{"sample":"CC1","site":7,"status":"U"},
{"sample":"CC2","site":1,"status":"U"},{"sample":"CC2","site":2,"status":"M"},{"sample":"CC2","site":3,"status":"U"},{"sample":"CC2","site":4,"status":"U"},{"sample":"CC2","site":5,"status":"M"},{"sample":"CC2","site":6,"status":"M"},{"sample":"CC2","site":7,"status":"U"},
{"sample":"CC3/7","site":1,"status":"U"},{"sample":"CC3/7","site":2,"status":"P"},{"sample":"CC3/7","site":3,"status":"U"},{"sample":"CC3/7","site":4,"status":"U"},{"sample":"CC3/7","site":5,"status":"P"},{"sample":"CC3/7","site":6,"status":"M"},{"sample":"CC3/7","site":7,"status":"U"},
{"sample":"CC4","site":1,"status":"U"},{"sample":"CC4","site":2,"status":"U"},{"sample":"CC4","site":3,"status":"P"},{"sample":"CC4","site":4,"status":"U"},{"sample":"CC4","site":5,"status":"U"},{"sample":"CC4","site":6,"status":"U"},{"sample":"CC4","site":7,"status":"U"},
{"sample":"CC5","site":1,"status":"U"},{"sample":"CC5","site":2,"status":"P"},{"sample":"CC5","site":3,"status":"U"},{"sample":"CC5","site":4,"status":"U"},{"sample":"CC5","site":5,"status":"P"},{"sample":"CC5","site":6,"status":"P"},{"sample":"CC5","site":7,"status":"U"},
{"sample":"CC6","site":1,"status":"U"},{"sample":"CC6","site":2,"status":"P"},{"sample":"CC6","site":3,"status":"U"},{"sample":"CC6","site":4,"status":"U"},{"sample":"CC6","site":5,"status":"M"},{"sample":"CC6","site":6,"status":"P"},{"sample":"CC6","site":7,"status":"U"},
{"sample":"CC8","site":1,"status":"U"},{"sample":"CC8","site":2,"status":"P"},{"sample":"CC8","site":3,"status":"U"},{"sample":"CC8","site":4,"status":"U"},{"sample":"CC8","site":5,"status":"P"},{"sample":"CC8","site":6,"status":"M"},{"sample":"CC8","site":7,"status":"U"},
{"sample":"NC1","site":1,"status":"U"},{"sample":"NC1","site":2,"status":"M"},{"sample":"NC1","site":3,"status":"U"},{"sample":"NC1","site":4,"status":"U"},{"sample":"NC1","site":5,"status":"M"},{"sample":"NC1","site":6,"status":"M"},{"sample":"NC1","site":7,"status":"U"},
{"sample":"NC2","site":1,"status":"U"},{"sample":"NC2","site":2,"status":"M"},{"sample":"NC2","site":3,"status":"U"},{"sample":"NC2","site":4,"status":"U"},{"sample":"NC2","site":5,"status":"M"},{"sample":"NC2","site":6,"status":"M"},{"sample":"NC2","site":7,"status":"U"},
{"sample":"NC3","site":1,"status":"U"},{"sample":"NC3","site":2,"status":"M"},{"sample":"NC3","site":3,"status":"U"},{"sample":"NC3","site":4,"status":"U"},{"sample":"NC3","site":5,"status":"U"},{"sample":"NC3","site":6,"status":"M"},{"sample":"NC3","site":7,"status":"U"}],
"OCT4":[
{"sample":"CC1","site":1,"status":"M"},{"sample":"CC1","site":2,"status":"M"},{"sample":"CC1","site":3,"status":"M"},{"sample":"CC1","site":4,"status":"M"},{"sample":"CC1","site":5,"status":"M"},{"sample":"CC1","site":6,"status":"M"},{"sample":"CC1","site":7,"status":"M"},
{"sample":"CC2","site":1,"status":"M"},{"sample":"CC2","site":2,"status":"P"},{"sample":"CC2","site":3,"status":"M"},{"sample":"CC2","site":4,"status":"M"},{"sample":"CC2","site":5,"status":"M"},{"sample":"CC2","site":6,"status":"M"},{"sample":"CC2","site":7,"status":"M"},
{"sample":"CC3/7","site":1,"status":"M"},{"sample":"CC3/7","site":2,"status":"P"},{"sample":"CC3/7","site":3,"status":"P"},{"sample":"CC3/7","site":4,"status":"P"},{"sample":"CC3/7","site":5,"status":"P"},{"sample":"CC3/7","site":6,"status":"M"},{"sample":"CC3/7","site":7,"status":"M"},
{"sample":"CC4","site":1,"status":"M"},{"sample":"CC4","site":2,"status":"P"},{"sample":"CC4","site":3,"status":"M"},{"sample":"CC4","site":4,"status":"M"},{"sample":"CC4","site":5,"status":"M"},{"sample":"CC4","site":6,"status":"M"},{"sample":"CC4","site":7,"status":"M"},
{"sample":"CC5","site":1,"status":"M"},{"sample":"CC5","site":2,"status":"M"},{"sample":"CC5","site":3,"status":"M"},{"sample":"CC5","site":4,"status":"M"},{"sample":"CC5","site":5,"status":"M"},{"sample":"CC5","site":6,"status":"M"},{"sample":"CC5","site":7,"status":"M"},
{"sample":"CC6","site":1,"status":"M"},{"sample":"CC6","site":2,"status":"P"},{"sample":"CC6","site":3,"status":"P"},{"sample":"CC6","site":4,"status":"P"},{"sample":"CC6","site":5,"status":"P"},{"sample":"CC6","site":6,"status":"M"},{"sample":"CC6","site":7,"status":"M"},
{"sample":"CC8","site":1,"status":"M"},{"sample":"CC8","site":2,"status":"M"},{"sample":"CC8","site":3,"status":"M"},{"sample":"CC8","site":4,"status":"M"},{"sample":"CC8","site":5,"status":"M"},{"sample":"CC8","site":6,"status":"M"},{"sample":"CC8","site":7,"status":"M"},
{"sample":"NC1","site":1,"status":"M"},{"sample":"NC1","site":2,"status":"U"},{"sample":"NC1","site":3,"status":"M"},{"sample":"NC1","site":4,"status":"M"},{"sample":"NC1","site":5,"status":"U"},{"sample":"NC1","site":6,"status":"M"},{"sample":"NC1","site":7,"status":"M"},
{"sample":"NC2","site":1,"status":"M"},{"sample":"NC2","site":2,"status":"U"},{"sample":"NC2","site":3,"status":"M"},{"sample":"NC2","site":4,"status":"M"},{"sample":"NC2","site":5,"status":"U"},{"sample":"NC2","site":6,"status":"M"},{"sample":"NC2","site":7,"status":"M"},
{"sample":"NC3","site":1,"status":"P"},{"sample":"NC3","site":2,"status":"M"},{"sample":"NC3","site":3,"status":"P"},{"sample":"NC3","site":4,"status":"P"},{"sample":"NC3","site":5,"status":"P"},{"sample":"NC3","site":6,"status":"M"},{"sample":"NC3","site":7,"status":"M"}],
"BLIMP1":[
{"sample":"CC1","site":1,"status":"U"},{"sample":"CC1","site":2,"status":"U"},{"sample":"CC1","site":3,"status":"U"},{"sample":"CC1","site":4,"status":"U"},{"sample":"CC1","site":5,"status":"U"},{"sample":"CC1","site":6,"status":"U"},{"sample":"CC1","site":7,"status":"U"},{"sample":"CC1","site":8,"status":"U"},{"sample":"CC1","site":9,"status":"U"},
{"sample":"CC2","site":1,"status":"U"},{"sample":"CC2","site":2,"status":"U"},{"sample":"CC2","site":3,"status":"U"},{"sample":"CC2","site":4,"status":"U"},{"sample":"CC2","site":5,"status":"U"},{"sample":"CC2","site":6,"status":"U"},{"sample":"CC2","site":7,"status":"U"},{"sample":"CC2","site":8,"status":"U"},{"sample":"CC2","site":9,"status":"U"},
{"sample":"CC3/7","site":1,"status":"U"},{"sample":"CC3/7","site":2,"status":"U"},{"sample":"CC3/7","site":3,"status":"U"},{"sample":"CC3/7","site":4,"status":"U"},{"sample":"CC3/7","site":5,"status":"U"},{"sample":"CC3/7","site":6,"status":"U"},{"sample":"CC3/7","site":7,"status":"U"},{"sample":"CC3/7","site":8,"status":"U"},{"sample":"CC3/7","site":9,"status":"U"},
{"sample":"CC4","site":1,"status":"U"},{"sample":"CC4","site":2,"status":"U"},{"sample":"CC4","site":3,"status":"U"},{"sample":"CC4","site":4,"status":"U"},{"sample":"CC4","site":5,"status":"U"},{"sample":"CC4","site":6,"status":"U"},{"sample":"CC4","site":7,"status":"U"},{"sample":"CC4","site":8,"status":"U"},{"sample":"CC4","site":9,"status":"U"},
{"sample":"CC5","site":1,"status":"U"},{"sample":"CC5","site":2,"status":"U"},{"sample":"CC5","site":3,"status":"U"},{"sample":"CC5","site":4,"status":"U"},{"sample":"CC5","site":5,"status":"U"},{"sample":"CC5","site":6,"status":"U"},{"sample":"CC5","site":7,"status":"U"},{"sample":"CC5","site":8,"status":"U"},{"sample":"CC5","site":9,"status":"U"},
{"sample":"CC6","site":1,"status":"U"},{"sample":"CC6","site":2,"status":"U"},{"sample":"CC6","site":3,"status":"U"},{"sample":"CC6","site":4,"status":"U"},{"sample":"CC6","site":5,"status":"U"},{"sample":"CC6","site":6,"status":"U"},{"sample":"CC6","site":7,"status":"U"},{"sample":"CC6","site":8,"status":"U"},{"sample":"CC6","site":9,"status":"U"},
{"sample":"CC8","site":1,"status":"U"},{"sample":"CC8","site":2,"status":"U"},{"sample":"CC8","site":3,"status":"U"},{"sample":"CC8","site":4,"status":"U"},{"sample":"CC8","site":5,"status":"U"},{"sample":"CC8","site":6,"status":"U"},{"sample":"CC8","site":7,"status":"U"},{"sample":"CC8","site":8,"status":"U"},{"sample":"CC8","site":9,"status":"U"},
{"sample":"NC1","site":1,"status":"U"},{"sample":"NC1","site":2,"status":"U"},{"sample":"NC1","site":3,"status":"U"},{"sample":"NC1","site":4,"status":"U"},{"sample":"NC1","site":5,"status":"U"},{"sample":"NC1","site":6,"status":"U"},{"sample":"NC1","site":7,"status":"U"},{"sample":"NC1","site":8,"status":"U"},{"sample":"NC1","site":9,"status":"U"},
{"sample":"NC2","site":1,"status":"U"},{"sample":"NC2","site":2,"status":"U"},{"sample":"NC2","site":3,"status":"U"},{"sample":"NC2","site":4,"status":"U"},{"sample":"NC2","site":5,"status":"U"},{"sample":"NC2","site":6,"status":"U"},{"sample":"NC2","site":7,"status":"U"},{"sample":"NC2","site":8,"status":"U"},{"sample":"NC2","site":9,"status":"U"},
{"sample":"NC3","site":1,"status":"U"},{"sample":"NC3","site":2,"status":"U"},{"sample":"NC3","site":3,"status":"U"},{"sample":"NC3","site":4,"status":"U"},{"sample":"NC3","site":5,"status":"U"},{"sample":"NC3","site":6,"status":"U"},{"sample":"NC3","site":7,"status":"U"},{"sample":"NC3","site":8,"status":"U"},{"sample":"NC3","site":9,"status":"U"}]
},
"hconcat":[
{"width":190,"height":558,
 "layer":[
  {"data":{"name":"samples"},"mark":{"type":"text","fontWeight":"bold","fontSize":12.5,"color":"#111"},
   "encoding":{"x":{"datum":"code","type":"nominal","scale":{"type":"point","domain":["code","hpv","grade"],"padding":0.4504,"align":0.64},"axis":{"orient":"top","title":null}},
    "y":{"field":"sample","type":"nominal","scale":{"type":"band","domain":["H1","H2","H3","CC1","CC2","CC3/7","CC4","CC5","CC6","CC8","CC9","CC10","CC11","CC14","CC15","CC16","CC17","CC18","B1","B2","B3","NC1","NC2","NC3","NCS3","NCS4","NCS6","B4","SiHa","HeLa"],"paddingInner":0,"paddingOuter":0.754,"align":0.564},"axis":{"orient":"left","title":null}},
    "text":{"field":"sample"}}},
  {"data":{"name":"samples"},"mark":{"type":"text","fontSize":13,"color":"#111"},
   "encoding":{"x":{"datum":"hpv","type":"nominal"},"y":{"field":"sample","type":"nominal"},"text":{"field":"hpv"}}},
  {"data":{"name":"samples"},"mark":{"type":"text","fontSize":13,"color":"#111"},
   "encoding":{"x":{"datum":"grade","type":"nominal"},"y":{"field":"sample","type":"nominal"},"text":{"field":"grade"}}},
  {"data":{"name":"headers"},"mark":{"type":"text","fontWeight":"bold","fontSize":12.5,"color":"#111","dy":-2},
   "encoding":{"x":{"field":"col","type":"nominal"},"y":{"field":"line","type":"nominal"},"text":{"field":"label"}}}
 ]},
{"width":164,"height":558,"layer":[
  {"data":{"name":"RASSF1A"},"mark":{"type":"rect","stroke":"#1e1e1e","strokeWidth":1.8},
   "encoding":{"x":{"field":"site","type":"ordinal","scale":{"paddingInner":0,"paddingOuter":0.5128},"axis":{"orient":"top","title":null}},
    "y":{"field":"sample","type":"nominal","scale":{"domain":["H1","H2","H3","CC1","CC2","CC3/7","CC4","CC5","CC6","CC8","CC9","CC10","CC11","CC14","CC15","CC16","CC17","CC18","B1","B2","B3","NC1","NC2","NC3","NCS3","NCS4","NCS6","B4","SiHa","HeLa"],"paddingInner":0,"paddingOuter":0.754,"align":0.564},"axis":null},
    "color":{"field":"status","type":"nominal","scale":{"domain":["U","P","M"],"range":["#62b346","#f8e71c","#e8202a"]},"legend":null}}},
  {"data":{"values":[{"gene":"RASSF1A"}]},"mark":{"type":"text","fontWeight":"bold","fontStyle":"italic","fontSize":14,"color":"#111"},"encoding":{"y":{"datum":"H3"},"text":{"field":"gene"}}}]},
{"width":78.2,"height":558,"layer":[
  {"data":{"name":"EZH2"},"mark":{"type":"rect","stroke":"#1e1e1e","strokeWidth":1.8},
   "encoding":{"x":{"field":"site","type":"ordinal","scale":{"paddingInner":0,"paddingOuter":0.5128},"axis":{"orient":"top","title":null}},
    "y":{"field":"sample","type":"nominal","scale":{"domain":["H1","H2","H3","CC1","CC2","CC3/7","CC4","CC5","CC6","CC8","CC9","CC10","CC11","CC14","CC15","CC16","CC17","CC18","B1","B2","B3","NC1","NC2","NC3","NCS3","NCS4","NCS6","B4","SiHa","HeLa"],"paddingInner":0,"paddingOuter":0.754,"align":0.564},"axis":null},
    "color":{"field":"status","type":"nominal","scale":{"domain":["U","P","M"],"range":["#62b346","#f8e71c","#e8202a"]},"legend":null}}},
  {"data":{"values":[{"gene":"EZH2"}]},"mark":{"type":"text","fontWeight":"bold","fontStyle":"italic","fontSize":14,"color":"#111"},"encoding":{"y":{"datum":"H3"},"text":{"field":"gene"}}}]},
{"width":93.8,"height":558,"layer":[
  {"data":{"name":"DNMT3A"},"mark":{"type":"rect","stroke":"#1e1e1e","strokeWidth":1.8},
   "encoding":{"x":{"field":"site","type":"ordinal","scale":{"paddingInner":0,"paddingOuter":0.5128},"axis":{"orient":"top","title":null}},
    "y":{"field":"sample","type":"nominal","scale":{"domain":["H1","H2","H3","CC1","CC2","CC3/7","CC4","CC5","CC6","CC8","CC9","CC10","CC11","CC14","CC15","CC16","CC17","CC18","B1","B2","B3","NC1","NC2","NC3","NCS3","NCS4","NCS6","B4","SiHa","HeLa"],"paddingInner":0,"paddingOuter":0.754,"align":0.564},"axis":null},
    "color":{"field":"status","type":"nominal","scale":{"domain":["U","P","M"],"range":["#62b346","#f8e71c","#e8202a"]},"legend":null}}},
  {"data":{"values":[{"gene":"DNMT3A"}]},"mark":{"type":"text","fontWeight":"bold","fontStyle":"italic","fontSize":14,"color":"#111"},"encoding":{"y":{"datum":"H3"},"text":{"field":"gene"}}}]},
{"width":242,"height":558,"layer":[
  {"data":{"name":"DNMT3B"},"mark":{"type":"rect","stroke":"#1e1e1e","strokeWidth":1.8},
   "encoding":{"x":{"field":"site","type":"ordinal","scale":{"paddingInner":0,"paddingOuter":0.5128},"axis":{"orient":"top","title":null}},
    "y":{"field":"sample","type":"nominal","scale":{"domain":["H1","H2","H3","CC1","CC2","CC3/7","CC4","CC5","CC6","CC8","CC9","CC10","CC11","CC14","CC15","CC16","CC17","CC18","B1","B2","B3","NC1","NC2","NC3","NCS3","NCS4","NCS6","B4","SiHa","HeLa"],"paddingInner":0,"paddingOuter":0.754,"align":0.564},"axis":null},
    "color":{"field":"status","type":"nominal","scale":{"domain":["U","P","M"],"range":["#62b346","#f8e71c","#e8202a"]},"legend":null}}},
  {"data":{"values":[{"gene":"DNMT3B"}]},"mark":{"type":"text","fontWeight":"bold","fontStyle":"italic","fontSize":14,"color":"#111"},"encoding":{"y":{"datum":"H3"},"text":{"field":"gene"}}},
  {"data":{"values":[{"title":"CpG Methylation Status"}]},"mark":{"type":"text","fontWeight":"bold","fontSize":19.5,"color":"#111","dx":26,"dy":-3},"encoding":{"y":{"datum":"H2"},"text":{"field":"title"}}}]},
{"width":93.8,"height":558,"layer":[
  {"data":{"name":"DNMT3L"},"mark":{"type":"rect","stroke":"#1e1e1e","strokeWidth":1.8},
   "encoding":{"x":{"field":"site","type":"ordinal","scale":{"paddingInner":0,"paddingOuter":0.5128},"axis":{"orient":"top","title":null}},
    "y":{"field":"sample","type":"nominal","scale":{"domain":["H1","H2","H3","CC1","CC2","CC3/7","CC4","CC5","CC6","CC8","CC9","CC10","CC11","CC14","CC15","CC16","CC17","CC18","B1","B2","B3","NC1","NC2","NC3","NCS3","NCS4","NCS6","B4","SiHa","HeLa"],"paddingInner":0,"paddingOuter":0.754,"align":0.564},"axis":null},
    "color":{"field":"status","type":"nominal","scale":{"domain":["U","P","M"],"range":["#62b346","#f8e71c","#e8202a"]},"legend":null}}},
  {"data":{"name":"marks"},"mark":{"type":"text","font":"DejaVu Sans","fontSize":10,"color":"#8a8a8a"},"encoding":{"x":{"field":"site","type":"ordinal"},"y":{"datum":"B1"},"text":{"field":"symbol"}}},
  {"data":{"values":[{"gene":"DNMT3L"}]},"mark":{"type":"text","fontWeight":"bold","fontStyle":"italic","fontSize":14,"color":"#111"},"encoding":{"y":{"datum":"H3"},"text":{"field":"gene"}}}]},
{"width":86,"height":558,"layer":[
  {"data":{"name":"EED"},"mark":{"type":"rect","stroke":"#1e1e1e","strokeWidth":1.8},
   "encoding":{"x":{"field":"site","type":"ordinal","scale":{"paddingInner":0,"paddingOuter":0.5128},"axis":{"orient":"top","title":null}},
    "y":{"field":"sample","type":"nominal","scale":{"domain":["H1","H2","H3","CC1","CC2","CC3/7","CC4","CC5","CC6","CC8","CC9","CC10","CC11","CC14","CC15","CC16","CC17","CC18","B1","B2","B3","NC1","NC2","NC3","NCS3","NCS4","NCS6","B4","SiHa","HeLa"],"paddingInner":0,"paddingOuter":0.754,"align":0.564},"axis":null},
    "color":{"field":"status","type":"nominal","scale":{"domain":["U","P","M"],"range":["#62b346","#f8e71c","#e8202a"]},"legend":null}}},
  {"data":{"values":[{"gene":"EED"}]},"mark":{"type":"text","fontWeight":"bold","fontStyle":"italic","fontSize":14,"color":"#111"},"encoding":{"y":{"datum":"H3"},"text":{"field":"gene"}}}]},
{"width":62.6,"height":558,"layer":[
  {"data":{"name":"NANOG"},"mark":{"type":"rect","stroke":"#1e1e1e","strokeWidth":1.8},
   "encoding":{"x":{"field":"site","type":"ordinal","scale":{"paddingInner":0,"paddingOuter":0.5128},"axis":{"orient":"top","title":null}},
    "y":{"field":"sample","type":"nominal","scale":{"domain":["H1","H2","H3","CC1","CC2","CC3/7","CC4","CC5","CC6","CC8","CC9","CC10","CC11","CC14","CC15","CC16","CC17","CC18","B1","B2","B3","NC1","NC2","NC3","NCS3","NCS4","NCS6","B4","SiHa","HeLa"],"paddingInner":0,"paddingOuter":0.754,"align":0.564},"axis":null},
    "color":{"field":"status","type":"nominal","scale":{"domain":["U","P","M"],"range":["#62b346","#f8e71c","#e8202a"]},"legend":null}}},
  {"data":{"values":[{"gene":"NANOG"}]},"mark":{"type":"text","fontWeight":"bold","fontStyle":"italic","fontSize":14,"color":"#111"},"encoding":{"y":{"datum":"H3"},"text":{"field":"gene"}}}]},
{"width":62.6,"height":558,"layer":[
  {"data":{"name":"OCT4"},"mark":{"type":"rect","stroke":"#1e1e1e","strokeWidth":1.8},
   "encoding":{"x":{"field":"site","type":"ordinal","scale":{"paddingInner":0,"paddingOuter":0.5128},"axis":{"orient":"top","title":null}},
    "y":{"field":"sample","type":"nominal","scale":{"domain":["H1","H2","H3","CC1","CC2","CC3/7","CC4","CC5","CC6","CC8","CC9","CC10","CC11","CC14","CC15","CC16","CC17","CC18","B1","B2","B3","NC1","NC2","NC3","NCS3","NCS4","NCS6","B4","SiHa","HeLa"],"paddingInner":0,"paddingOuter":0.754,"align":0.564},"axis":null},
    "color":{"field":"status","type":"nominal","scale":{"domain":["U","P","M"],"range":["#62b346","#f8e71c","#e8202a"]},"legend":null}}},
  {"data":{"values":[{"gene":"OCT4"}]},"mark":{"type":"text","fontWeight":"bold","fontStyle":"italic","fontSize":14,"color":"#111"},"encoding":{"y":{"datum":"H3"},"text":{"field":"gene"}}}]},
{"width":81,"height":558,"layer":[
  {"data":{"name":"BLIMP1"},"mark":{"type":"rect","stroke":"#1e1e1e","strokeWidth":1.8},
   "encoding":{"x":{"field":"site","type":"ordinal","scale":{"paddingInner":0,"paddingOuter":0.6923,"align":0.37},"axis":{"orient":"top","title":null}},
    "y":{"field":"sample","type":"nominal","scale":{"domain":["H1","H2","H3","CC1","CC2","CC3/7","CC4","CC5","CC6","CC8","CC9","CC10","CC11","CC14","CC15","CC16","CC17","CC18","B1","B2","B3","NC1","NC2","NC3","NCS3","NCS4","NCS6","B4","SiHa","HeLa"],"paddingInner":0,"paddingOuter":0.754,"align":0.564},"axis":null},
    "color":{"field":"status","type":"nominal","scale":{"domain":["U","P","M"],"range":["#62b346","#f8e71c","#e8202a"]},"legend":null}}},
  {"data":{"values":[{"gene":"BLIMP1"}]},"mark":{"type":"text","fontWeight":"bold","fontStyle":"italic","fontSize":14,"color":"#111"},"encoding":{"x":{"datum":5,"type":"ordinal"},"y":{"datum":"H3"},"text":{"field":"gene"}}}]}
]
}
